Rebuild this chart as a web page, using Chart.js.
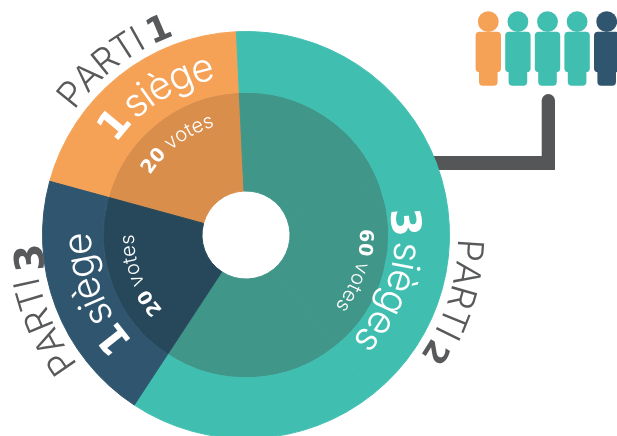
<!DOCTYPE html>
<html><head><meta charset="utf-8">
<style>html,body{margin:0;padding:0;background:#fff;overflow:hidden;width:617px;height:436px}canvas{display:block}</style>
<script src="https://cdn.jsdelivr.net/npm/chart.js@4"></script>
</head><body><canvas id="c" width="617" height="445"></canvas>
<script>
const partyNames = ['PARTI 1','PARTI 2','PARTI 3'];
const partySeats = [1,3,1];
const partyVotes = [20,60,20];
const seatSlices = [1,1,1,1,1];
const voteSlices = [20,20,20,20,20];
const seatParty = [0,1,1,1,2];
const peopleOrder = [0,1,1,1,2];
const outerColors = ['#F5A257','#40BFB1','#30566F'];
const innerColors = ['#D98E4C','#409689','#26485A'];
const GREY='#58595B';
const NUM='"DejaVu Sans"', TXT='Inter';

function arcText(ctx,cx,cy,r,start,runs){
  let a=start*Math.PI/180;
  for(const run of runs){
    ctx.font=run.font; ctx.fillStyle=run.color;
    for(const ch of run.text){
      const w=ctx.measureText(ch).width+(run.ls||0);
      const rr=r+(run.dr||0);
      const m=a+(w/2)/r;
      ctx.save();
      ctx.translate(cx+rr*Math.sin(m),cy-rr*Math.cos(m));
      ctx.rotate(m);
      ctx.textAlign='center';ctx.textBaseline='alphabetic';
      ctx.fillText(ch,0,0);
      ctx.restore();
      a+=w/r;
    }
  }
}
function rr(ctx,x,y,w,h,r){ctx.beginPath();ctx.roundRect(x,y,w,h,r);ctx.fill();}

const deco={id:'deco',
 beforeDatasetsDraw(ch){
  const c=ch.ctx;
  c.save();c.fillStyle='#555657';
  c.beginPath();c.roundRect(541.7,94,13.3,76,[6.6,6.6,0,0]);c.fill();
  c.fillRect(430,156,125,14);
  peopleOrder.forEach((p,i)=>{
    const x=488.3+i*29.6;
    c.fillStyle=outerColors[p];
    c.beginPath();c.arc(x,21.7,10.4,0,Math.PI*2);c.fill();
    rr(c,x-12.7,31.7,25.4,40.5,4);
    rr(c,x-9.3,66,18.6,19.7,4);
  });
  c.restore();
 },
 afterDatasetsDraw(ch){
  const c=ch.ctx, arc=ch.getDatasetMeta(0).data[0], cx=arc.x, cy=arc.y;
  const w='#fff';
  const partyFont='300 36px '+TXT;
  const seat=(i)=>partySeats[i]>1?'sièges':'siège';
  const big='300 39px '+TXT;
  const small='300 20px '+TXT, smallNum='bold 19px '+NUM;
  const [n1,n2,n3]=partyNames.map(s=>s.split(' '));
  const P=(n,font)=>[{text:n[0],font:partyFont,color:GREY,ls:-1},{text:' ',font:'300 20px '+TXT,color:GREY},{text:n[1],font,color:GREY}];
  arcText(c,cx,cy,212,-54,P(n1,'bold 35px '+NUM));
  arcText(c,cx,cy,212,91,P(n2,'bold 32px '+NUM));
  arcText(c,cx,cy,212,-127.5,(()=>{const p=P(n3,'bold 40px '+NUM);p[2].dr=-8;return p;})());
  [[0,159,-55,'bold 40px ',-1.5],[1,149,80,'bold 41px ',-1.5],[2,155,-133.5,'bold 40px ',-2]].forEach(([i,r,s,f,ls])=>{
    arcText(c,cx,cy,r,s,[{text:String(partySeats[i]),font:f+NUM,color:w,dr:i==1?-3:0},{text:' ',font:'300 14px '+TXT,color:w},{text:seat(i),font:big,color:w,ls}]);
  });
  [[0,113,-58],[1,114,87],[2,112,-132]].forEach(([i,r,s])=>{
    arcText(c,cx,cy,r,s,[{text:String(partyVotes[i]),font:smallNum,color:w},{text:' ',font:small,color:w},{text:'votes',font:small,color:w}]);
  });
 }
};

new Chart(document.getElementById('c'),{
 type:'doughnut',
 data:{labels:seatParty.map(p=>partyNames[p]),datasets:[
  {data:seatSlices,backgroundColor:seatParty.map(p=>outerColors[p]),borderColor:seatParty.map(p=>outerColors[p]),borderWidth:1,weight:61},
  {data:voteSlices,backgroundColor:seatParty.map(p=>innerColors[p]),borderColor:seatParty.map(p=>innerColors[p]),borderWidth:1,weight:99}
 ]},
 options:{responsive:false,animation:false,rotation:-74.7,cutout:44,
  layout:{padding:{left:42,right:167,top:31,bottom:6}},
  plugins:{legend:{display:false},tooltip:{enabled:false},title:{display:false}}},
 plugins:[deco]
});
</script></body></html>
